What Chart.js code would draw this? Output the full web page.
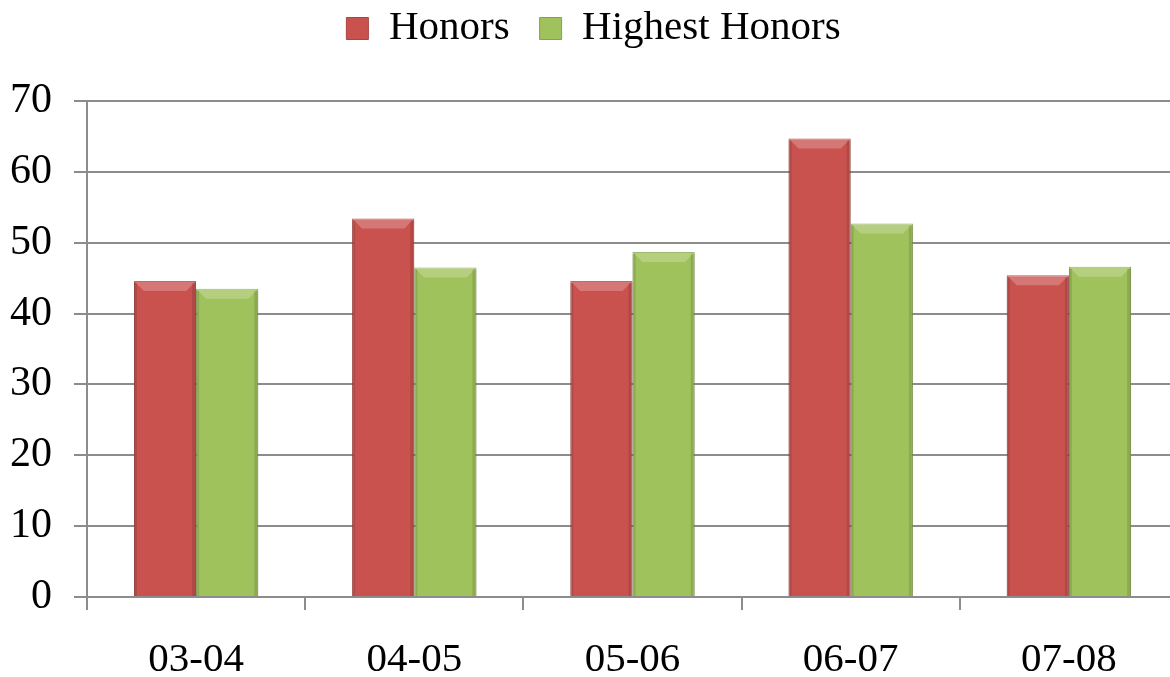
<!DOCTYPE html>
<html>
<head>
<meta charset="utf-8">
<script src="https://cdn.jsdelivr.net/npm/chart.js@4/dist/chart.umd.min.js"></script>
<style>
  html, body { margin: 0; padding: 0; background: #fff; overflow: hidden; }
  #wrap { width: 1180px; height: 677px; }
</style>
</head>
<body>
<div id="wrap"><canvas id="myChart" width="1180" height="677"></canvas></div>
<script>
const seasons = ['03-04', '04-05', '05-06', '06-07', '07-08']
const honors = [44.6, 53.4, 44.6, 64.7, 45.4]
const highestHonors = [43.5, 46.5, 48.7, 52.7, 46.6]
const yTicks = [0, 10, 20, 30, 40, 50, 60, 70]

const red = '#c9524f'
const green = '#a0c25c'
const gridGray = '#8c8c8c'
const serif = "'Liberation Serif', 'Times New Roman', serif"

// extra room under the legend
const legendMargin = {
  id: 'legendMargin',
  beforeInit(chart) {
    const fit = chart.legend.fit
    chart.legend.fit = function () {
      fit.bind(chart.legend)()
      this.height += 42
    }
  }
}

// fake the office-style bevel on top of each bar
const bevel = {
  id: 'bevel',
  afterDatasetsDraw(chart) {
    const ctx = chart.ctx
    chart.data.datasets.forEach((ds, i) => {
      chart.getDatasetMeta(i).data.forEach(bar => {
        const left = bar.x - bar.width / 2
        const right = bar.x + bar.width / 2
        const top = bar.y
        const b = 10
        ctx.save()
        ctx.fillStyle = 'rgba(255,255,255,0.22)'
        ctx.beginPath()
        ctx.moveTo(left, top)
        ctx.lineTo(right, top)
        ctx.lineTo(right - b, top + b)
        ctx.lineTo(left + b, top + b)
        ctx.closePath()
        ctx.fill()
        ctx.fillStyle = 'rgba(0,0,0,0.12)'
        ctx.fillRect(right - 4, top + 2, 4, bar.base - top - 2)
        ctx.fillRect(left, top + 2, 3, bar.base - top - 2)
        ctx.restore()
      })
    })
  }
}

let data = {
  labels: seasons,
  datasets: [{
    label: 'Honors',
    data: honors,
    backgroundColor: red,
    borderColor: '#a94441',
    borderWidth: 1,
    borderSkipped: 'bottom'
  }, {
    label: 'Highest Honors',
    data: highestHonors,
    backgroundColor: green,
    borderColor: '#84a24a',
    borderWidth: 1,
    borderSkipped: 'bottom'
  }]
}

let config = {
  type: 'bar',
  data: data,
  plugins: [legendMargin, bevel],
  options: {
    responsive: false,
    animation: false,
    devicePixelRatio: 1,
    layout: {
      padding: { left: 9, right: 2, top: -22, bottom: 0 }
    },
    datasets: {
      bar: {
        categoryPercentage: 0.57,
        barPercentage: 1
      }
    },
    plugins: {
      tooltip: { enabled: false },
      legend: {
        display: true,
        position: 'top',
        labels: {
          color: '#000',
          font: { family: serif, size: 41 },
          boxWidth: 22,
          boxHeight: 22,
          padding: 30
        }
      }
    },
    scales: {
      y: {
        min: 0,
        max: 70,
        afterBuildTicks: (axis) => {
          axis.ticks = yTicks.map(v => ({ value: v }))
        },
        afterFit: (axis) => { axis.width = 78 },
        grid: {
          color: gridGray,
          lineWidth: 2,
          tickLength: 13
        },
        border: { color: gridGray, width: 2 },
        ticks: {
          color: '#000',
          font: { family: serif, size: 42 },
          padding: 22
        }
      },
      x: {
        afterFit: (axis) => { axis.height = 80 },
        grid: {
          offset: true,
          drawOnChartArea: false,
          color: gridGray,
          lineWidth: 2,
          tickLength: 13
        },
        border: { color: gridGray, width: 2 },
        ticks: {
          color: '#000',
          font: { family: serif, size: 41 },
          padding: 26
        }
      }
    }
  }
}

const myChart = new Chart(document.getElementById('myChart'), config)
</script>
</body>
</html>
